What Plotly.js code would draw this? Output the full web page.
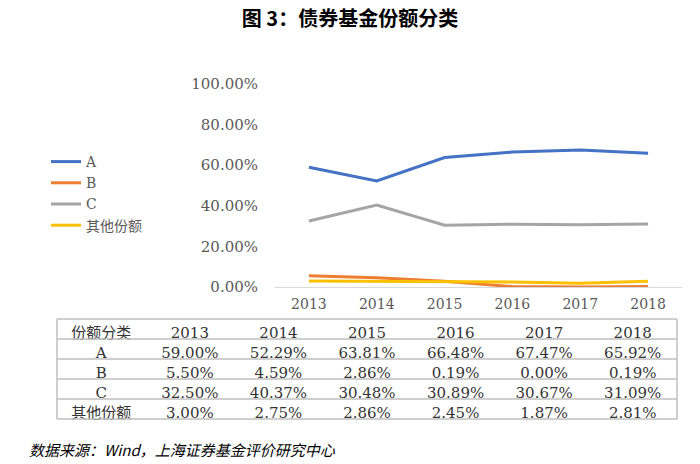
<!DOCTYPE html>
<html>
<head>
<meta charset="utf-8">
<script src="https://cdn.plot.ly/plotly-3.0.1.min.js"></script>
<style>html,body{margin:0;padding:0;background:#fff;}#chart{width:700px;height:464px;}</style>
</head>
<body>
<div id="chart"></div>
<script>
// ---- data ----
const years = ['2013', '2014', '2015', '2016', '2017', '2018'];
const seriesNames = ['A', 'B', 'C', '其他份额'];
const shareA = [59.00, 52.29, 63.81, 66.48, 67.47, 65.92];
const shareB = [5.50, 4.59, 2.86, 0.19, 0.00, 0.19];
const shareC = [32.50, 40.37, 30.48, 30.89, 30.67, 31.09];
const shareOther = [3.00, 2.75, 2.86, 2.45, 1.87, 2.81];
const yTickVals = [0, 20, 40, 60, 80, 100];
const tableHeaderLabel = '份额分类';
const titleText = '图 3：债券基金份额分类';
const sourceText = '数据来源：Wind，上海证券基金评价研究中心';

// ---- styles ----
const W = 700, H = 464;
const px = v => v / W;
const py = v => 1 - v / H;
const colors = ['#4472C4', '#ED7D31', '#A5A5A5', '#FFC000'];
const serif = '"DejaVu Serif", "Liberation Serif", "Noto Sans CJK SC", serif';
const cjk = '"Noto Sans CJK SC", sans-serif';
const allSeries = [shareA, shareB, shareC, shareOther];
const fmt = v => v.toFixed(2) + '%';

const traces = allSeries.map((vals, i) => ({
  type: 'scatter', mode: 'lines',
  x: years, y: vals, name: seriesNames[i],
  line: {color: colors[i], width: 3},
  hoverinfo: 'skip'
}));

// table
const tableCols = [seriesNames].concat(years.map((y, j) => allSeries.map(s => fmt(s[j]))));
const tableTop = 319, rowH = 20, nRows = seriesNames.length + 1;
const tableLeft = 57, tableRight = 677;
const tableBottom = tableTop + rowH * nRows;
traces.push({
  type: 'table',
  domain: {x: [px(tableLeft), px(tableRight)], y: [py(tableBottom + 2), py(tableTop)]},
  columnwidth: Array(years.length + 1).fill(1),
  header: {
    values: [tableHeaderLabel].concat(years),
    align: 'center', height: rowH,
    line: {width: 0, color: 'rgba(0,0,0,0)'},
    fill: {color: 'rgba(0,0,0,0)'},
    font: {family: serif, size: 15, color: '#333333'}
  },
  cells: {
    values: tableCols,
    align: 'center', height: rowH,
    line: {width: 0, color: 'rgba(0,0,0,0)'},
    fill: {color: 'rgba(0,0,0,0)'},
    font: {family: serif, size: 15, color: '#333333'}
  }
});

const shapes = [];
for (let r = 0; r <= nRows; r++) {
  const yy = tableTop + r * rowH;
  shapes.push({type: 'line', xref: 'paper', yref: 'paper',
    x0: px(tableLeft), x1: px(tableRight), y0: py(yy), y1: py(yy),
    line: {color: '#bfbfbf', width: 1.5}});
}
[tableLeft, tableRight].forEach(xx => shapes.push({type: 'line', xref: 'paper', yref: 'paper',
  x0: px(xx), x1: px(xx), y0: py(tableTop), y1: py(tableBottom),
  line: {color: '#bfbfbf', width: 1.5}}));

const layout = {
  width: W, height: H,
  margin: {l: 0, r: 0, t: 0, b: 0},
  paper_bgcolor: '#fff', plot_bgcolor: '#fff',
  title: {text: titleText, x: 0.5, xanchor: 'center', y: py(19), yanchor: 'middle',
    font: {family: cjk, size: 20, color: '#000', weight: 'bold'}},
  xaxis: {
    domain: [px(275), px(682)], type: 'category',
    range: [-0.5, years.length - 0.5],
    showline: true, linecolor: '#d9d9d9', linewidth: 1,
    showgrid: false, zeroline: false, ticks: '',
    ticklabelstandoff: 4,
    tickfont: {family: serif, size: 14, color: '#595959'}, fixedrange: true
  },
  yaxis: {
    domain: [py(287), py(84)], range: [0, 100],
    tickmode: 'array', tickvals: yTickVals, ticktext: yTickVals.map(fmt),
    showgrid: false, zeroline: false, showline: false, ticks: '',
    ticklabelstandoff: 16,
    tickfont: {family: serif, size: 15, color: '#595959'}, fixedrange: true
  },
  showlegend: true,
  legend: {x: px(46), y: py(146), xanchor: 'left', yanchor: 'top',
    bgcolor: 'rgba(0,0,0,0)', tracegroupgap: 0,
    font: {family: serif, size: 14, color: '#595959'}},
  shapes: shapes,
  annotations: [{
    text: sourceText, xref: 'paper', yref: 'paper', x: px(27), y: py(449),
    xanchor: 'left', yanchor: 'middle', showarrow: false,
    font: {family: cjk, size: 15, color: '#000', style: 'italic'}
  }]
};

Plotly.newPlot('chart', traces, layout, {displayModeBar: false, staticPlot: true});
</script>
</body>
</html>
